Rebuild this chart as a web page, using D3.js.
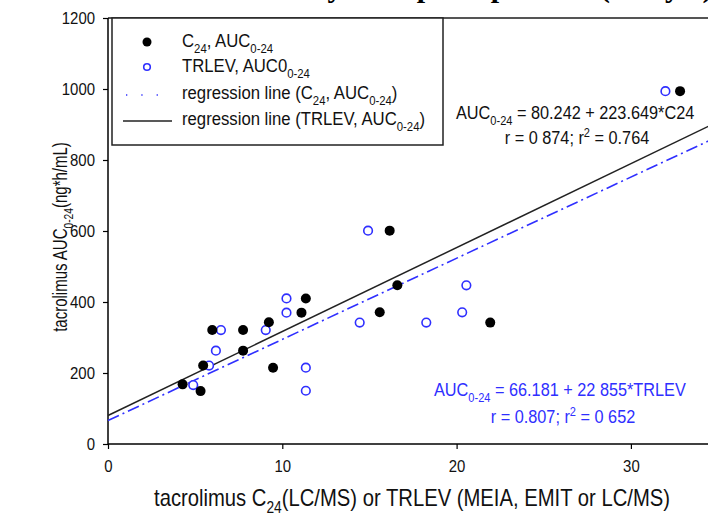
<!DOCTYPE html>
<html>
<head>
<meta charset="utf-8">
<script src="https://cdn.jsdelivr.net/npm/d3@7"></script>
<style>
  body { margin: 0; background: #fff; }
  svg { display: block; }
  svg text { font-family: "Liberation Sans", Arial, sans-serif; }
</style>
</head>
<body>
<div id="chart"></div>
<script>
// C24 (black filled) and TRLEV (blue open) vs AUC0-24
var c24X   = [4.28, 5.31, 5.46, 5.98, 7.75, 7.75, 9.23, 9.47, 11.1, 11.35, 15.59, 16.16, 16.6, 21.93, 32.82];
var c24Y   = [168, 149, 221, 321, 321, 263, 343, 215, 370, 410, 371, 601, 447, 342, 994];
var trlevX = [4.89, 5.8, 6.19, 6.48, 9.05, 10.24, 10.24, 11.35, 11.35, 14.44, 14.92, 18.26, 20.32, 20.56, 31.98];
var trlevY = [166, 221, 263, 321, 321, 370, 410, 215, 150, 342, 601, 342, 371, 447, 994];
var xTicks = [0, 10, 20, 30];
var yTicks = [0, 200, 400, 600, 800, 1000, 1200];
// regression lines: [intercept, slope]
var lineBlack = [80.242, 23.649];
var lineBlue  = [66.181, 22.855];

var width = 708, height = 515;
var margin = {top: 18, left: 108, bottom: 71};
var narrow = 0.88;   // fake Arial Narrow look
var blue = "#2f2fff";

var svg = d3.select("#chart").append("svg")
    .attr("width", width)
    .attr("height", height);

var x = d3.scaleLinear().domain([0, 35]).range([margin.left, margin.left + 35 * 17.43]);
var y = d3.scaleLinear().domain([0, 1200]).range([height - margin.bottom, margin.top]);

// rich text helper: parts = [[text, "sub"|"sup"|undefined]]
function richText(parent, parts, size, px, py, opts) {
    opts = opts || {};
    var g = parent.append("g")
        .attr("transform", "translate(" + px + "," + py + ")" +
            (opts.rotate ? " rotate(" + opts.rotate + ")" : "") +
            " scale(" + (opts.sx || narrow) + ",1)");
    var t = g.append("text")
        .style("font-size", size + "px")
        .attr("fill", opts.fill || "#111")
        .attr("text-anchor", opts.anchor || "start");
    var down = 0;
    parts.forEach(function (p) {
        var want = p[1] === "sub" ? size * 0.3 : p[1] === "sup" ? -size * 0.38 : 0;
        var ts = t.append("tspan").text(p[0]).attr("dy", want - down);
        if (p[1]) ts.style("font-size", (size * 0.68) + "px");
        down = want;
    });
    return t;
}

// cropped title at the very top
var title = svg.append("text")
    .attr("x", 0)
    .attr("y", -3)
    .style("font-family", "'Liberation Serif', 'DejaVu Serif', serif")
    .style("font-weight", "bold")
    .style("font-size", "30px")
    .text("y Database to Liver and Kidney transplant patients (study 2)");
var paren = title.text().indexOf("(");
var parenX = title.node().getStartPositionOfChar(paren).x;
title.attr("x", 600 - parenX);

// top frame line
svg.append("line")
    .attr("x1", x(0)).attr("x2", width)
    .attr("y1", y(1200)).attr("y2", y(1200))
    .attr("stroke", "#555").attr("stroke-width", 2);

// axes
var xAxis = d3.axisBottom(x).tickValues(xTicks).tickSize(5).tickFormat(d3.format("d"));
var yAxis = d3.axisLeft(y).tickValues(yTicks).tickSize(5).tickFormat(d3.format("d"));

var gx = svg.append("g")
    .attr("transform", "translate(0," + y(0) + ")")
    .call(xAxis);
gx.select(".domain").attr("d", "M" + x(0) + ",0H" + width).attr("stroke-width", 1.5);
gx.selectAll(".tick line").attr("stroke-width", 1.2);
gx.selectAll(".tick text").style("font-size", "17px").attr("dy", "1.2em").attr("fill", "#111")
    .attr("transform", "scale(" + narrow + ",1)");

var gy = svg.append("g")
    .attr("transform", "translate(" + x(0) + ",0)")
    .call(yAxis);
gy.select(".domain").attr("d", "M0," + y(0) + "V" + y(1200)).attr("stroke-width", 1.5);
gy.selectAll(".tick line").attr("stroke-width", 1.2);
gy.selectAll(".tick text")
    .style("font-size", "17px").attr("x", -13 / narrow).attr("fill", "#111")
    .attr("transform", "scale(" + narrow + ",1)");

// regression lines
var clipX = 35;
svg.append("line")
    .attr("x1", x(0)).attr("y1", y(lineBlack[0]))
    .attr("x2", x(clipX)).attr("y2", y(lineBlack[0] + lineBlack[1] * clipX))
    .attr("stroke", "#222").attr("stroke-width", 1.5);
svg.append("line")
    .attr("x1", x(0)).attr("y1", y(lineBlue[0]))
    .attr("x2", x(clipX)).attr("y2", y(lineBlue[0] + lineBlue[1] * clipX))
    .attr("stroke", blue).attr("stroke-width", 1.6)
    .attr("stroke-dasharray", "12,4,2,4");

// points
svg.append("g").selectAll("circle")
    .data(trlevX)
    .join("circle")
    .attr("cx", function (d) { return x(d); })
    .attr("cy", function (d, i) { return y(trlevY[i]); })
    .attr("r", 4.3)
    .attr("fill", "#fff")
    .attr("stroke", blue)
    .attr("stroke-width", 1.6);

svg.append("g").selectAll("circle")
    .data(c24X)
    .join("circle")
    .attr("cx", function (d) { return x(d); })
    .attr("cy", function (d, i) { return y(c24Y[i]); })
    .attr("r", 5)
    .attr("fill", "#000");

// legend
var leg = svg.append("g");
leg.append("rect")
    .attr("x", 112).attr("y", 18)
    .attr("width", 331).attr("height", 127)
    .attr("fill", "#fff").attr("stroke", "#222").attr("stroke-width", 1.5);
leg.append("circle").attr("cx", 147).attr("cy", 42).attr("r", 4.5).attr("fill", "#000");
leg.append("circle").attr("cx", 147).attr("cy", 67).attr("r", 3.3)
    .attr("fill", "#fff").attr("stroke", blue).attr("stroke-width", 1.6);
leg.append("line").attr("x1", 126).attr("x2", 171).attr("y1", 95).attr("y2", 95)
    .attr("stroke", blue).attr("stroke-width", 1.3).attr("stroke-dasharray", "1.3,14");
leg.append("line").attr("x1", 123).attr("x2", 172).attr("y1", 121).attr("y2", 121)
    .attr("stroke", "#222").attr("stroke-width", 1.5);

richText(leg, [["C"], ["24", "sub"], [", AUC"], ["0-24", "sub"]], 19, 182, 47);
richText(leg, [["TRLEV, AUC0"], ["0-24", "sub"]], 19, 182, 72);
richText(leg, [["regression line (C"], ["24", "sub"], [", AUC"], ["0-24", "sub"], [")"]], 19, 182, 99);
richText(leg, [["regression line (TRLEV, AUC"], ["0-24", "sub"], [")"]], 19, 182, 125);

// equations
richText(svg, [["AUC"], ["0-24", "sub"], [" = 80.242 + 223.649*C24"]], 18.5, 456, 119);
richText(svg, [["r = 0 874; r"], ["2", "sup"], [" = 0.764"]], 18.5, 577, 144, {anchor: "middle"});

richText(svg, [["AUC"], ["0-24", "sub"], [" = 66.181 + 22 855*TRLEV"]], 18.5, 434, 396, {fill: blue});
richText(svg, [["r = 0.807; r"], ["2", "sup"], [" = 0 652"]], 18.5, 563, 423, {anchor: "middle", fill: blue});

// axis titles
richText(svg, [["tacrolimus C"], ["24", "sub"], ["(LC/MS) or TRLEV (MEIA, EMIT or LC/MS)"]], 23, 412, 506, {anchor: "middle"});

richText(svg, [["tacrolimus AUC"], ["0-24", "sub"], ["(ng*h/mL)"]], 19.5, 67, 237, {anchor: "middle", rotate: -90, sx: 0.77});
</script>
</body>
</html>
